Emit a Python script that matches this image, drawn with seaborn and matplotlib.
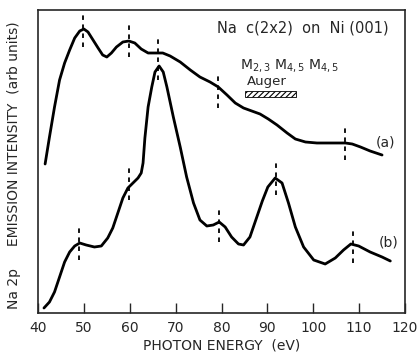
import numpy as np
import pandas as pd
import seaborn as sns
import matplotlib
matplotlib.use("Agg")
import matplotlib.pyplot as plt

# Curve (a)
a_energy = [41.55, 42.5, 43.6, 44.7, 45.8, 46.9, 48.0, 49.1, 50.0, 50.9, 52.0, 53.1, 54.1,
            55.0, 56.0, 57.1, 58.5, 59.8, 61.1, 62.5, 64.0, 65.8, 67.2, 68.8, 71.0,
            73.2, 75.3, 77.5, 79.3, 81.2, 83.0, 84.8, 86.6, 88.4, 90.2, 92.1, 94.3,
            96.1, 98.3, 100.8, 103.7, 107.0, 108.5, 110.3, 112.4, 115.0]
a_int = [149, 176, 206, 233, 250, 263, 275, 282, 284, 281, 273, 265, 258,
         256, 260, 266, 271, 272, 270, 264, 260, 260, 260, 257, 251,
         243, 236, 231, 226, 218, 210, 205, 202, 199, 194, 188, 180,
         174, 171, 170, 170, 170, 169, 166, 162, 158]

# Curve (b)
b_energy = [41.3, 42.5, 43.6, 44.7, 45.8, 46.9, 48.0, 49.1, 50.5, 52.3, 53.8, 55.2, 56.3,
            57.4, 58.5, 59.6, 60.7, 61.8, 62.5, 62.9, 63.3, 64.0, 64.8, 65.5, 66.4,
            67.3, 68.1, 69.5, 71.0, 72.4, 73.9, 75.3, 76.8, 78.2, 79.5, 80.8, 82.2,
            83.7, 84.8, 86.2, 87.7, 88.9, 90.1, 91.7, 93.2, 94.6, 96.1, 97.9, 100.1,
            102.6, 104.8, 106.6, 108.2, 109.9, 112.4, 115.0, 116.8]
b_int = [5, 11, 21, 36, 51, 61, 67, 70, 68, 66, 67, 75, 85,
         100, 115, 125, 130, 135, 140, 150, 175, 206, 226, 241, 247,
         241, 226, 196, 166, 136, 110, 93, 87, 88, 91, 86, 76,
         69, 68, 76, 96, 112, 126, 135, 130, 110, 86, 66, 53,
         49, 55, 63, 69, 67, 61, 56, 52]

# Dashed peak markers: (energy, top, bottom)
a_marks = [(49.8, 300, 266), (59.8, 290, 256), (66.2, 275, 233), (79.3, 238, 205), (107.0, 185, 153)]
b_marks = [(48.9, 85, 53), (59.8, 146, 113), (79.5, 104, 71), (91.8, 151, 118), (108.6, 83, 50)]

x_ticks = [40, 50, 60, 70, 80, 90, 100, 110, 120]
auger_range = (85.2, 96.3)

sns.set_style("ticks")
plt.rcParams['font.family'] = ['DejaVu Sans']
plt.rcParams['hatch.linewidth'] = 0.8

fig = plt.figure(figsize=(4.19, 3.52), dpi=100)
ax = fig.add_axes([38/419, 1-313/352, (405-38)/419, (313-10)/352])

dfa = pd.DataFrame({"E": a_energy, "I": a_int})
dfb = pd.DataFrame({"E": b_energy, "I": b_int})
sns.lineplot(data=dfa, x="E", y="I", ax=ax, color="black", lw=2.0, sort=False)
sns.lineplot(data=dfb, x="E", y="I", ax=ax, color="black", lw=2.0, sort=False)

for e, top, bot in a_marks + b_marks:
    ax.vlines(e, bot, top, colors="black", linestyles=(0, (2.5, 2.5)), lw=1.3)

ax.text(97.8, 285, "Na  c(2x2)  on  Ni (001)", ha="center", va="center", fontsize=10.5)
ax.text(84.1, 248, "M$_{2,3}$ M$_{4,5}$ M$_{4,5}$", ha="left", va="center", fontsize=10)
ax.text(85.6, 231, "Auger", ha="left", va="center", fontsize=9.5)
ax.add_patch(plt.Rectangle((auger_range[0], 216), auger_range[1]-auger_range[0], 6,
                           facecolor="white", edgecolor="black", hatch="//////", lw=0.6))
ax.text(115.7, 170, "(a)", ha="center", va="center", fontsize=10)
ax.text(116.4, 70, "(b)", ha="center", va="center", fontsize=10)

ax.set_xlim(40, 120)
ax.set_ylim(0, 303)
ax.set_xticks(x_ticks)
ax.set_yticks([])
ax.tick_params(axis="x", direction="in", length=7, width=1.0, pad=6, labelsize=10)
for s in ax.spines.values():
    s.set_visible(True)
    s.set_linewidth(1.2)
ax.set_xlabel("PHOTON ENERGY  (eV)", fontsize=10, labelpad=2)
ax.set_ylabel("")
fig.text(14/419, 1-165/352, "Na 2p     EMISSION INTENSITY  (arb units)", rotation=90,
         ha="center", va="center", fontsize=10)

fig.savefig("out.png", dpi=100)
